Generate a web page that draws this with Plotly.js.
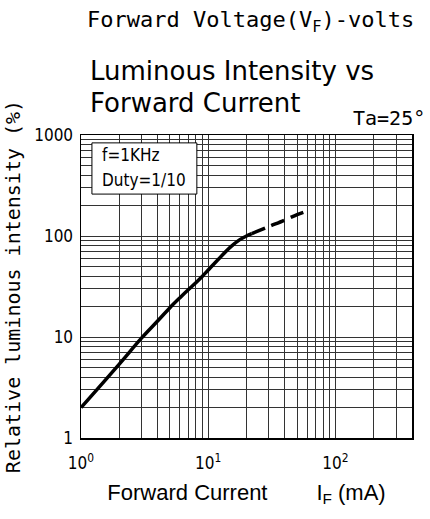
<!DOCTYPE html>
<html>
<head>
<meta charset="utf-8">
<script src="https://cdn.plot.ly/plotly-3.0.1.min.js"></script>
<style>html,body{margin:0;padding:0;background:#fff;}#chart{width:430px;height:519px;}</style>
</head>
<body>
<div id="chart"></div>
<script>
// Data
const currentSolid = [1, 2, 3, 4, 5, 6, 7, 8, 9, 10, 15, 17.5, 20, 22];
const intensitySolid = [2, 5.4, 9.8, 14.4, 19.5, 24.5, 29.5, 34.5, 40, 46, 78, 91, 100, 105.5];
const currentDashed = [22, 30, 40, 50, 60];
const intensityDashed = [105.5, 124, 144, 163, 177];

const xMajorVals = [1, 10, 100];
const xMajorText = ['10<sup>0</sup>', '10<sup>1</sup>', '10<sup>2</sup>'];
const xMinorVals = [2,3,4,5,6,7,8,9,20,30,40,50,60,70,80,90,200,300,400];
const yMajorVals = [1, 10, 100, 1000];
const yMajorText = ['1', '10', '100', '1000'];
const yMinorVals = [2,3,4,5,6,7,8,9,20,30,40,50,60,70,80,90,200,300,400,500,600,700,800,900];

const narrow = 'Liberation Sans Narrow, DejaVu Sans Condensed, Arial Narrow, sans-serif';
const sans = 'Liberation Sans, Arial, sans-serif';
const dejavu = 'DejaVu Sans, sans-serif';
const mono = 'DejaVu Sans Mono, monospace';

const traces = [
  {x: currentSolid, y: intensitySolid, type: 'scatter', mode: 'lines',
   line: {color: '#000', width: 3.5, shape: 'spline', smoothing: 1}, showlegend: false, hoverinfo: 'skip'},
  {x: currentDashed, y: intensityDashed, type: 'scatter', mode: 'lines',
   line: {color: '#000', width: 3.5, shape: 'spline', dash: '14px,7px'}, showlegend: false, hoverinfo: 'skip'}
];

const axisCommon = {
  type: 'log', tickmode: 'array', showgrid: true, gridcolor: '#333', gridwidth: 1,
  zeroline: false, showline: true, linecolor: '#000', linewidth: 1.5, mirror: true,
  ticks: '', tickfont: {family: narrow, size: 17, color: '#000'}
};

const layout = {
  width: 430, height: 519,
  margin: {l: 81, r: 18, t: 135, b: 81},
  paper_bgcolor: '#fff', plot_bgcolor: '#fff',
  showlegend: false,
  xaxis: Object.assign({}, axisCommon, {
    range: [0, Math.log10(400)], tickvals: xMajorVals, ticktext: xMajorText,
    minor: {tickmode: 'array', tickvals: xMinorVals, showgrid: true, gridcolor: '#333', gridwidth: 1, ticks: ''},
    ticklabelstandoff: 9,
    title: {text: 'Forward Current        I<sub>F</sub> (mA)', font: {family: sans, size: 22, color: '#000'}, standoff: 12}
  }),
  yaxis: Object.assign({}, axisCommon, {
    range: [0, 3], tickvals: yMajorVals, ticktext: yMajorText,
    minor: {tickmode: 'array', tickvals: yMinorVals, showgrid: true, gridcolor: '#333', gridwidth: 1, ticks: ''},
    ticklabelstandoff: 3,
    title: {text: 'Relative luminous intensity (%)', font: {family: mono, size: 20, color: '#000'}, standoff: 8}
  }),
  shapes: [
    {type: 'rect', xref: 'paper', yref: 'paper', x0: 0.033, x1: 0.350, y0: 0.805, y1: 0.974,
     fillcolor: '#fff', line: {color: '#000', width: 1}, layer: 'above'}
  ],
  annotations: [
    {text: 'Forward Voltage(V<sub>F</sub>)-volts', xref: 'paper', yref: 'paper', x: 0.012, y: 1.373,
     xanchor: 'left', yanchor: 'middle', showarrow: false, font: {family: mono, size: 22, color: '#000'}},
    {text: 'Luminous Intensity vs', xref: 'paper', yref: 'paper', x: 0.021, y: 1.211,
     xanchor: 'left', yanchor: 'middle', showarrow: false, font: {family: dejavu, size: 26, color: '#000'}},
    {text: 'Forward Current', xref: 'paper', yref: 'paper', x: 0.021, y: 1.106,
     xanchor: 'left', yanchor: 'middle', showarrow: false, font: {family: dejavu, size: 26, color: '#000'}},
    {text: 'Ta=25°', xref: 'paper', yref: 'paper', x: 0.815, y: 1.056,
     xanchor: 'left', yanchor: 'middle', showarrow: false, font: {family: mono, size: 20, color: '#000'}},
    {text: 'f=1KHz', xref: 'paper', yref: 'paper', x: 0.057, y: 0.934,
     xanchor: 'left', yanchor: 'middle', showarrow: false, font: {family: narrow, size: 17, color: '#000'}},
    {text: 'Duty=1/10', xref: 'paper', yref: 'paper', x: 0.057, y: 0.851,
     xanchor: 'left', yanchor: 'middle', showarrow: false, font: {family: narrow, size: 17, color: '#000'}}
  ]
};

Plotly.newPlot('chart', traces, layout, {staticPlot: true, displayModeBar: false});
</script>
</body>
</html>
